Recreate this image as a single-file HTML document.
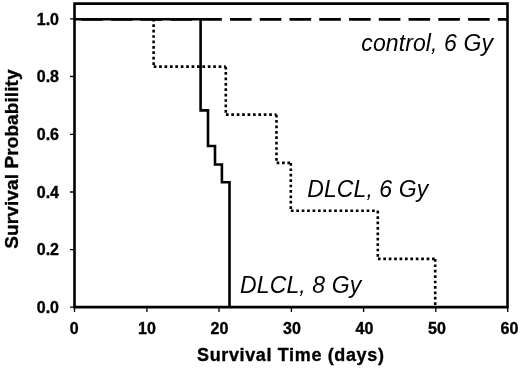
<!DOCTYPE html>
<html><head><meta charset="utf-8"><style>
html,body{margin:0;padding:0;background:#fff;width:520px;height:368px;overflow:hidden}
svg{display:block;will-change:transform}
text{font-family:"Liberation Sans",sans-serif;fill:#000}
.tl{font-size:16px;font-weight:bold;stroke:#000;stroke-width:0.35px}
.tt{font-size:18px;font-weight:bold;letter-spacing:0.64px;stroke:#000;stroke-width:0.35px}
.an{font-size:23px;font-style:italic;letter-spacing:0.1px}
</style></head><body>
<svg width="520" height="368" viewBox="0 0 520 368">
<rect width="520" height="368" fill="#fff"/>
<!-- control dashed -->
<line x1="74.5" y1="19.3" x2="507.5" y2="19.3" stroke="#000" stroke-width="2.8" stroke-dasharray="21.6 8.16" stroke-dashoffset="23.06"/>
<!-- DLCL 6 Gy dotted -->
<path d="M153.6 18.8L153.6 66.6M153.6 66.6L225.8 66.6M225.8 66.6L225.8 114.6M225.8 114.6L276.5 114.6M276.5 114.6L276.5 162.9M276.5 162.9L290.8 162.9M290.8 162.9L290.8 210.7M290.8 210.7L377.8 210.7M377.8 210.7L377.8 258.9M377.8 258.9L435.2 258.9M435.2 258.9L435.2 307.2" fill="none" stroke="#000" stroke-width="2.6" stroke-dasharray="2.7 2.71" stroke-dashoffset="-0.1"/>
<!-- DLCL 8 Gy solid -->
<path d="M74.5 19.3H200.6V110.4H208V146H215V164.5H221.9V182.2H229.5V307" fill="none" stroke="#000" stroke-width="2.6"/>
<!-- frame -->
<path d="M74.5 3.65H507.5V307.15H74.5Z" fill="none" stroke="#000" stroke-width="2.6"/>
<!-- y ticks -->
<path d="M70 18.8H74.5M70 76.5H74.5M70 134.3H74.5M70 192H74.5M70 249.6H74.5M70 307.2H74.5" stroke="#000" stroke-width="1.3"/>
<!-- x ticks -->
<path d="M74.5 307V312M146.9 307V312M219 307V312M291.4 307V312M363.6 307V312M435.8 307V312M507.7 307V312" stroke="#000" stroke-width="1.3"/>
<!-- y tick labels -->
<g class="tl" text-anchor="end">
<text x="59" y="24.5">1.0</text>
<text x="59" y="82.2">0.8</text>
<text x="59" y="140">0.6</text>
<text x="59" y="197.7">0.4</text>
<text x="59" y="255.3">0.2</text>
<text x="59" y="312.9">0.0</text>
</g>
<g class="tl" text-anchor="middle">
<text x="74.2" y="333.5">0</text>
<text x="146.9" y="333.5">10</text>
<text x="219.5" y="333.5">20</text>
<text x="292" y="333.5">30</text>
<text x="364.5" y="333.5">40</text>
<text x="437" y="333.5">50</text>
<text x="509.4" y="333.5">60</text>
</g>
<text class="tt" x="197" y="361.2">Survival Time (days)</text>
<text class="tt" style="font-size:19px;letter-spacing:0.1px" transform="translate(18,248.7) rotate(-90)" x="0" y="0">Survival Probability</text>
<text class="an" x="361.3" y="50.6">control, 6 Gy</text>
<text class="an" x="307.2" y="197">DLCL, 6 Gy</text>
<text class="an" x="240.1" y="293.3">DLCL, 8 Gy</text>
</svg>
</body></html>
